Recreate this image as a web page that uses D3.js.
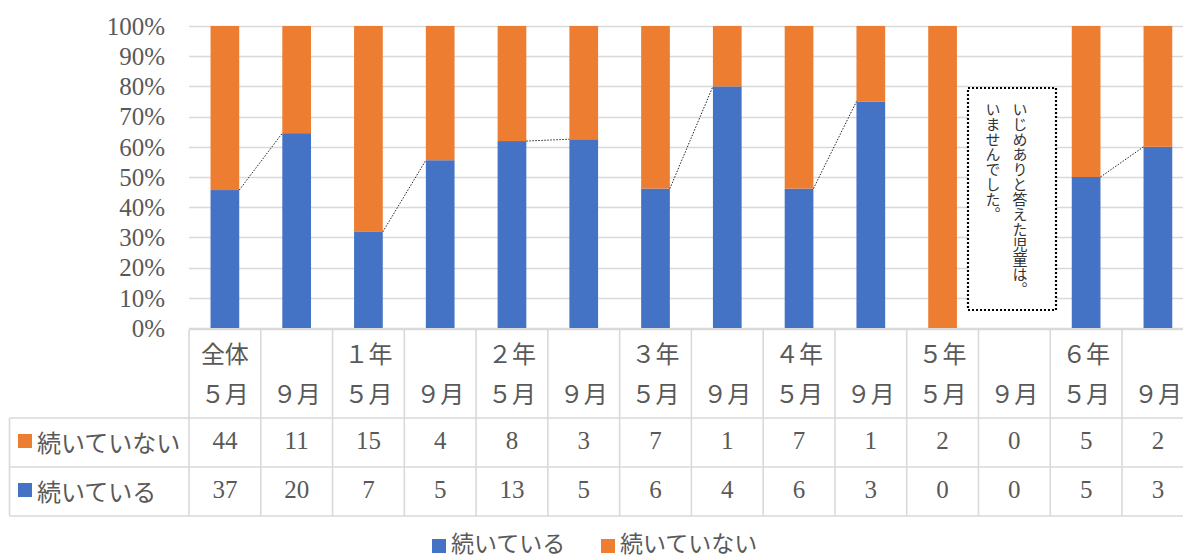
<!DOCTYPE html>
<html><head><meta charset="utf-8">
<script src="https://cdn.jsdelivr.net/npm/d3@7"></script>
<style>
body{margin:0;background:#fff;}
svg{display:block;}
</style></head>
<body>
<svg id="chart" width="1183" height="560"></svg>
<script>
// ---- data ----
const headLine1 = ["全体","","１年","","２年","","３年","","４年","","５年","","６年",""];
const headLine2 = ["５月","９月","５月","９月","５月","９月","５月","９月","５月","９月","５月","９月","５月","９月"];
const notContinuing = [44,11,15,4,8,3,7,1,7,1,2,0,5,2];
const continuing    = [37,20,7,5,13,5,6,4,6,3,0,0,5,3];
const seriesNames = ["続いている","続いていない"];
const yTicks = [0,0.1,0.2,0.3,0.4,0.5,0.6,0.7,0.8,0.9,1.0];
const noteLines = ["いじめありと答えた児童は。","いませんでした。"];

// ---- layout ----
const W = 1183, H = 560;
const plotLeft = 189, colW = 71.77, n = continuing.length;
const plotRight = plotLeft + colW * n;
const yTop = 26, yBottom = 328;
const blue = "#4472C4", orange = "#ED7D31", grid = "#d9d9d9", txt = "#595959";
const serif = "'Liberation Serif','Noto Sans CJK JP',serif";
const jp = "'Noto Sans CJK JP','Liberation Serif',sans-serif";

const svg = d3.select("#chart");
const idx = d3.range(n);
const x = d3.scaleBand().domain(idx).range([plotLeft, plotRight]).paddingInner(0.6).paddingOuter(0.3);
const y = d3.scaleLinear().domain([0,1]).range([yBottom, yTop]);

// gridlines
svg.append("g").selectAll("line").data(yTicks).join("line")
  .attr("x1", plotLeft).attr("x2", plotRight)
  .attr("y1", d => Math.round(y(d)) + 0.5).attr("y2", d => Math.round(y(d)) + 0.5)
  .attr("stroke", grid).attr("stroke-width", 1.3);

// y axis labels
const yAxis = d3.axisLeft(y).tickValues(yTicks).tickFormat(d3.format(".0%")).tickSize(0).tickPadding(24);
const gy = svg.append("g").attr("transform", `translate(${plotLeft},0)`).call(yAxis);
gy.select(".domain").remove();
gy.selectAll("text").attr("fill", txt).style("font-family", serif).style("font-size", "25px").attr("dy", "0.33em");

// stacked 100% bars
const stackData = idx.map(i => {
  const tot = continuing[i] + notContinuing[i];
  return {i, tot, c: tot ? continuing[i]/tot : 0, nc: tot ? notContinuing[i]/tot : 0};
});
const bars = svg.append("g");
bars.selectAll("rect.c").data(stackData.filter(d => d.tot > 0 && d.c > 0)).join("rect")
  .attr("x", d => x(d.i)).attr("width", x.bandwidth())
  .attr("y", d => y(d.c)).attr("height", d => y(0) - y(d.c))
  .attr("fill", blue);
bars.selectAll("rect.nc").data(stackData.filter(d => d.tot > 0 && d.nc > 0)).join("rect")
  .attr("x", d => x(d.i)).attr("width", x.bandwidth())
  .attr("y", d => y(d.c + d.nc)).attr("height", d => y(d.c) - y(d.c + d.nc))
  .attr("fill", orange);

// series lines (5月 -> 9月)
const pairs = d3.range(0, n, 2).map(i => [stackData[i], stackData[i+1]]).filter(p => p[0].tot > 0 && p[1].tot > 0);
svg.append("g").selectAll("line").data(pairs).join("line")
  .attr("x1", p => x(p[0].i) + x.bandwidth()).attr("y1", p => y(p[0].c))
  .attr("x2", p => x(p[1].i)).attr("y2", p => y(p[1].c))
  .attr("stroke", "#222").attr("stroke-width", 1).attr("stroke-dasharray", "1.5,1.5");

// ---- data table ----
const tTop = 329.5, hBottom = 418, r1Bottom = 467, r2Bottom = 516, tLeft = 9.5;
const tg = svg.append("g").attr("stroke", grid).attr("stroke-width", 1.6);
tg.append("line").attr("x1", plotLeft).attr("x2", plotRight).attr("y1", tTop).attr("y2", tTop);
[hBottom, r1Bottom, r2Bottom].forEach(yy => tg.append("line").attr("x1", tLeft).attr("x2", plotRight).attr("y1", yy).attr("y2", yy));
tg.append("line").attr("x1", tLeft).attr("x2", tLeft).attr("y1", hBottom).attr("y2", r2Bottom);
d3.range(n + 1).forEach(k => {
  const xx = plotLeft + k * colW;
  tg.append("line").attr("x1", xx).attr("x2", xx).attr("y1", tTop).attr("y2", r2Bottom);
});
const cx = i => plotLeft + (i + 0.5) * colW;
const tt = svg.append("g").attr("fill", txt).attr("text-anchor", "middle").style("font-size", "24px");
tt.selectAll("text.h1").data(idx).join("text").attr("class","h1")
  .attr("x", cx).attr("y", 352).attr("dominant-baseline", "central").style("font-family", jp).text(i => headLine1[i]);
tt.selectAll("text.h2").data(idx).join("text").attr("class","h2")
  .attr("x", cx).attr("y", 392).attr("dominant-baseline", "central").style("font-family", jp).text(i => headLine2[i]);
tt.selectAll("text.r1").data(idx).join("text").attr("class","r1")
  .attr("x", cx).attr("y", 441).attr("dy", "0.33em").style("font-family", serif).style("font-size","25px").text(i => notContinuing[i]);
tt.selectAll("text.r2").data(idx).join("text").attr("class","r2")
  .attr("x", cx).attr("y", 490).attr("dy", "0.33em").style("font-family", serif).style("font-size","25px").text(i => continuing[i]);

// row labels
const rowDefs = [{name: seriesNames[1], color: orange, yc: 441}, {name: seriesNames[0], color: blue, yc: 490}];
const rl = svg.append("g");
rl.selectAll("rect").data(rowDefs).join("rect")
  .attr("x", 18).attr("y", d => d.yc - 7).attr("width", 14).attr("height", 14).attr("fill", d => d.color);
rl.selectAll("text").data(rowDefs).join("text")
  .attr("x", 37).attr("y", d => d.yc).attr("dominant-baseline", "central")
  .attr("fill", txt).style("font-family", jp).style("font-size", "24px").text(d => d.name);

// legend
const legDefs = [{name: seriesNames[0], color: blue, x: 432}, {name: seriesNames[1], color: orange, x: 601}];
const lg = svg.append("g");
lg.selectAll("rect").data(legDefs).join("rect")
  .attr("x", d => d.x).attr("y", 539).attr("width", 14).attr("height", 14).attr("fill", d => d.color);
lg.selectAll("text").data(legDefs).join("text")
  .attr("x", d => d.x + 19).attr("y", 542).attr("dominant-baseline", "central")
  .attr("fill", txt).style("font-family", jp).style("font-size", "23px").text(d => d.name);

// annotation box
const nb = svg.append("g");
nb.append("rect").attr("x", 968).attr("y", 88).attr("width", 88).attr("height", 222)
  .attr("fill", "#fff").attr("stroke", "#000").attr("stroke-width", 2.2).attr("stroke-dasharray", "2,2");
nb.selectAll("text").data(noteLines).join("text")
  .attr("x", (d, k) => 1020 - k * 27).attr("y", 102)
  .style("writing-mode", "vertical-rl").style("font-family", jp).style("font-size", "15px")
  .attr("fill", "#333").text(d => d);
</script>
</body></html>
